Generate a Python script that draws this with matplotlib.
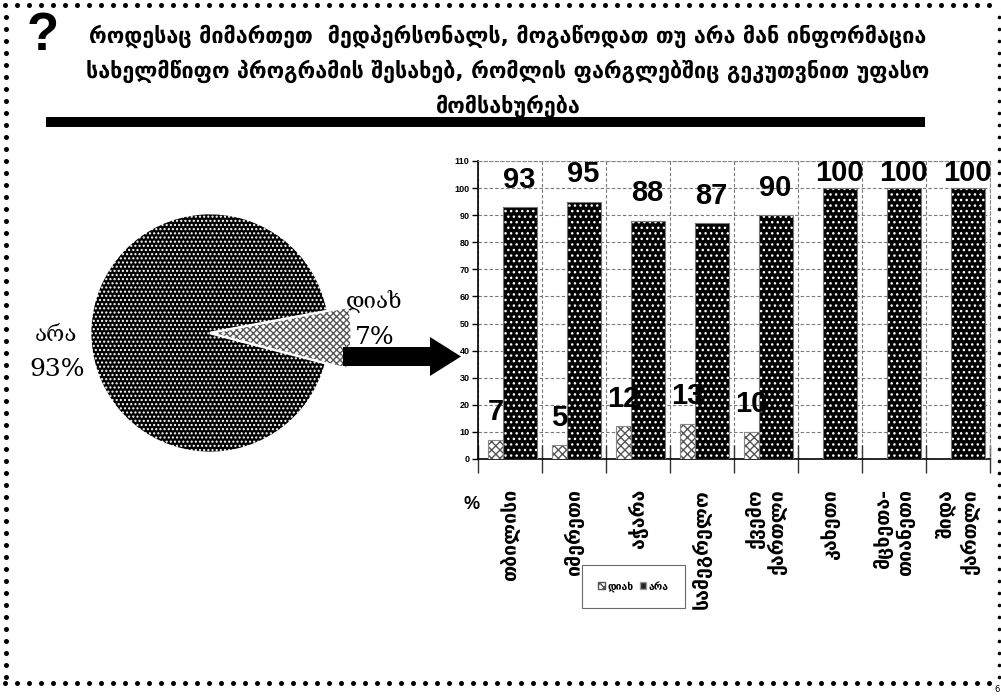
import numpy as np
import matplotlib
matplotlib.use("Agg")
import matplotlib.pyplot as plt
from matplotlib import font_manager
from matplotlib.patches import Polygon, Rectangle, Patch

# ---------------- data ----------------
title_lines = [
    "როდესაც მიმართეთ  მედპერსონალს, მოგაწოდათ თუ არა მან ინფორმაცია",
    "სახელმწიფო პროგრამის შესახებ, რომლის ფარგლებშიც გეკუთვნით უფასო",
    "მომსახურება",
]
pie_labels = ["არა", "დიახ"]
pie_values = [93, 7]
categories = ["თბილისი", "იმერეთი", "აჭარა", "სამეგრელო", "ქვემო\nქართლი",
              "კახეთი", "მცხეთა-\nთიანეთი", "შიდა\nქართლი"]
series_names = ["დიახ", "არა"]
yes_values = [7, 5, 12, 13, 10, 0, 0, 0]
no_values = [93, 95, 88, 87, 90, 100, 100, 100]
yticks = list(range(0, 111, 10))

# ---------------- fonts ----------------
names = {f.name for f in font_manager.fontManager.ttflist}
num_font = "Liberation Sans Narrow" if "Liberation Sans Narrow" in names else "Liberation Sans"
geo_font = "DejaVu Sans"
geo_serif = "DejaVu Serif" if "DejaVu Serif" in names else "DejaVu Sans"

W, H = 1001, 696
fig = plt.figure(figsize=(W / 100, H / 100), dpi=100)
fig.patch.set_facecolor("white")

def px_axes(x0, y0, x1, y1):
    return fig.add_axes([x0 / W, 1 - y1 / H, (x1 - x0) / W, (y1 - y0) / H])

# ---------------- pie ----------------
R = 117
pax = px_axes(210 - 150, 333 - 150, 210 + 150, 333 + 150)
lim = 150 / R
pax.set_xlim(-lim, lim)
pax.set_ylim(-lim, lim)
pax.set_aspect("equal")
pax.axis("off")
frac_yes = pie_values[1] / sum(pie_values)
start = -2 + frac_yes * 180
wedges, _ = pax.pie(pie_values, startangle=start, radius=1.0,
                    explode=[0, 0.04], counterclock=True,
                    wedgeprops=dict(linewidth=2))
wedges[0].set_facecolor("black")
wedges[0].set_edgecolor("white")
wedges[0].set_hatch("....")
wedges[1].set_facecolor("white")
wedges[1].set_edgecolor("#555555")
wedges[1].set_linewidth(0)
wedges[1].set_hatch("xxxxx")
wedges[1].set_radius(1.13)

# ---------------- overlay (decorations, title) ----------------
ov = fig.add_axes([0, 0, 1, 1])
ov.set_xlim(0, W)
ov.set_ylim(H, 0)
ov.axis("off")

# dotted border
xs = np.arange(5, 996, 12)
ov.plot(xs, np.full_like(xs, 5), "o", color="black", ms=3.6, mew=0)
ov.plot(xs, np.full_like(xs, 683), "o", color="black", ms=3.6, mew=0)
ys = np.arange(17, 684, 12)
ov.plot(np.full_like(ys, 6), ys, "o", color="black", ms=3.6, mew=0)
ov.plot(np.full_like(ys, 999), ys, "o", color="black", ms=2.6, mew=0)
ov.text(1000, 690, "6", fontsize=6, ha="right", va="center", family=geo_font)

ov.text(43, 50, "?", fontsize=38, fontweight="bold", ha="center", va="baseline",
        family="Liberation Sans")
for i, line in enumerate(title_lines):
    ov.text(508, 36 + i * 35, line, fontsize=15.5, fontweight="bold", ha="center",
            va="center", family=geo_font)
ov.add_patch(Rectangle((46, 117), 879, 10, color="black", lw=0))

# arrow
arrow = [(343, 347), (430, 347), (430, 337), (461, 356.5), (430, 376),
         (430, 366), (343, 366)]
ov.add_patch(Polygon(arrow, closed=True, color="black", lw=0))

# pie labels
ov.text(56, 335, pie_labels[0], fontsize=16, ha="center", va="center", family=geo_serif)
ov.text(57, 370, f"{pie_values[0]}%", fontsize=18, ha="center", va="center", family=geo_serif)
ov.text(374, 301, pie_labels[1], fontsize=16, ha="center", va="center", family=geo_serif)
ov.text(375, 337, f"{pie_values[1]}%", fontsize=18, ha="center", va="center", family=geo_serif)

# ---------------- bar chart ----------------
ax = px_axes(478, 161, 990, 459)
x = np.arange(len(categories))
w_yes, off_yes = 0.234, -0.227
w_no, off_no = 0.53, 0.15

ax.bar(x + off_yes, yes_values, w_yes, color="white", edgecolor="#555555",
       hatch="xxxx", linewidth=0, zorder=3)
ax.bar(x + off_yes, yes_values, w_yes, fill=False, edgecolor="#888888",
       linewidth=0.8, zorder=3.1)
ax.bar(x + off_no, no_values, w_no, color="black", edgecolor="white",
       hatch="...", linewidth=0, zorder=3)
ax.bar(x + off_no, no_values, w_no, fill=False, edgecolor="#777777",
       linewidth=0.8, zorder=3.1)

for xi, v in zip(x, no_values):
    ax.text(xi + off_no, min(v + 5, 100.5), str(v), ha="center", va="bottom",
            fontsize=21, fontweight="bold", family=num_font, zorder=5)
for xi, v in zip(x, yes_values):
    if v > 0:
        ax.text(xi + off_yes, v + 5, str(v), ha="center", va="bottom",
                fontsize=21, fontweight="bold", family=num_font, zorder=5)

ax.set_xlim(-0.5, len(categories) - 0.5)
ax.set_ylim(0, 110)
ax.set_yticks(yticks)
ax.set_yticklabels([str(t) for t in yticks], fontsize=6.5, fontweight="bold",
                   family="Liberation Sans")
ax.set_xticks(np.arange(len(categories) + 1) - 0.5)
ax.set_xticklabels([])
ax.tick_params(axis="x", direction="inout", length=20, width=1, color="#333333")
ax.tick_params(axis="y", direction="out", length=4, width=1, pad=2)
ax.grid(True, which="major", linestyle=(0, (3, 2)), color="#777777", linewidth=0.8,
        zorder=0)
ax.set_axisbelow(True)
for s in ("top", "right"):
    ax.spines[s].set_linestyle((0, (3, 2)))
    ax.spines[s].set_color("#888888")
    ax.spines[s].set_linewidth(0.8)
ax.spines["left"].set_color("black")
ax.spines["bottom"].set_color("black")
ax.spines["left"].set_linewidth(1.2)
ax.spines["bottom"].set_linewidth(1.2)

# category labels (rotated)
for xi, lab in zip(x, categories):
    ax.text(xi, -0.1, lab, transform=ax.get_xaxis_transform(), rotation=90,
            ha="center", va="top", fontsize=14, fontweight="bold", family=geo_font,
            linespacing=1.15, multialignment="right")
ax.text(-0.012, -0.154, "%", transform=ax.transAxes, fontsize=13, fontweight="bold",
        ha="center", va="center", family="Liberation Sans")

handles = [Patch(facecolor="white", edgecolor="#555555", hatch="xxxx"),
           Patch(facecolor="#222222", edgecolor="#999999")]
leg = fig.legend(handles, series_names, loc="center",
                 bbox_to_anchor=(633.5 / W, 1 - 586.5 / H), ncol=2,
                 frameon=True, fancybox=False, handlelength=0.6,
                 handleheight=0.6, handletextpad=0.25, columnspacing=0.6,
                 borderpad=1.6, borderaxespad=0,
                 prop=dict(family=geo_font, size=7.5, weight="bold"))
leg.get_frame().set_edgecolor("#444444")
leg.get_frame().set_linewidth(0.8)

fig.savefig("out.png", dpi=100, facecolor="white")
